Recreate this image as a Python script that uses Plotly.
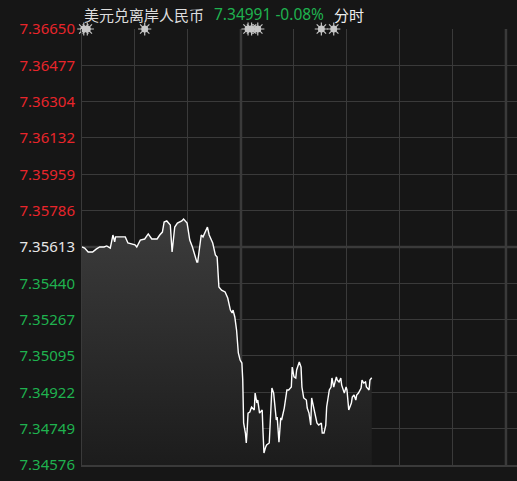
import plotly.graph_objects as go

# minutes since session open
minutes = [0, 3, 7, 12, 16, 20, 25, 28, 32, 35, 37, 38, 44, 49, 52, 57, 60, 62, 66, 71,
           75, 79, 85, 88, 91, 93, 96, 100, 102, 105, 108, 113, 115, 119, 122, 125, 127, 130,
           131, 135, 137, 140, 142, 144, 146, 148, 151, 153, 155, 158, 162, 165, 168, 170,
           171, 173, 175, 177, 179, 181, 182, 183, 185, 186, 187, 188, 190, 192, 195, 196,
           198, 199, 201, 204, 205, 206, 208, 209, 212, 214, 215, 217, 220, 221, 223, 225,
           226, 229, 231, 232, 234, 237, 238, 240, 242, 243, 246, 248, 249, 251, 254, 255,
           257, 259, 260, 263, 265, 266, 268, 271, 272, 274, 276, 277, 280, 282, 283, 285,
           288, 289, 291, 293, 294, 297, 299, 300, 302, 305, 306, 308, 310, 311, 313, 316,
           317, 319, 321, 322, 325, 326, 328]
prices = [7.35613, 7.35608, 7.35589, 7.35589, 7.35603, 7.35613, 7.35613, 7.35618, 7.35608, 7.35670,
          7.35637, 7.35661, 7.35661, 7.35661, 7.35632, 7.35627, 7.35623, 7.35613, 7.35646, 7.35651,
          7.35675, 7.35651, 7.35651, 7.35670, 7.35684, 7.35732, 7.35737, 7.35718, 7.35589, 7.35708,
          7.35727, 7.35737, 7.35746, 7.35727, 7.35646, 7.35613, 7.35589, 7.35542, 7.35542, 7.35670,
          7.35661, 7.35694, 7.35708, 7.35670, 7.35646, 7.35632, 7.35575, 7.35565, 7.35423, 7.35408,
          7.35399, 7.35370, 7.35313, 7.35299, 7.35313, 7.35280, 7.35218, 7.35109, 7.35075, 7.35061,
          7.34980, 7.34776, 7.34728, 7.34681, 7.34742, 7.34823, 7.34828, 7.34852, 7.34838, 7.34918,
          7.34871, 7.34885, 7.34823, 7.34838, 7.34728, 7.34633, 7.34662, 7.34671, 7.34681, 7.34852,
          7.34942, 7.34918, 7.34790, 7.34804, 7.34685, 7.34800, 7.34790, 7.34847, 7.34899, 7.34933,
          7.34933, 7.34947, 7.35042, 7.34995, 7.34990, 7.35028, 7.35066, 7.35042, 7.34947, 7.34895,
          7.34885, 7.34847, 7.34823, 7.34766, 7.34895, 7.34838, 7.34800, 7.34776, 7.34766, 7.34776,
          7.34728, 7.34728, 7.34766, 7.34852, 7.34933, 7.34947, 7.34990, 7.34947, 7.34995, 7.34980,
          7.34971, 7.34990, 7.34956, 7.34918, 7.34947, 7.34933, 7.34838, 7.34871, 7.34899, 7.34909,
          7.34885, 7.34909, 7.34918, 7.34942, 7.34980, 7.34966, 7.34971, 7.34947, 7.34933, 7.34980,
          7.34991]

y_ticks = [7.36650, 7.36477, 7.36304, 7.36132, 7.35959, 7.35786, 7.35613,
           7.35440, 7.35267, 7.35095, 7.34922, 7.34749, 7.34576]
prev_close = 7.35613
event_minutes = [2, 6, 71, 188, 192, 199, 271, 285]

title_name = "美元兑离岸人民币"
last_price = "7.34991"
change_pct = "-0.08%"
mode_label = "分时"

RED = "#e8252b"
GREEN = "#1fb24f"
GRID = "#3a3a3a"
BG = "#161616"

y_lo, y_hi = y_ticks[-1], y_ticks[0]

tick_text = []
for v in y_ticks:
    c = RED if v > prev_close + 1e-9 else (GREEN if v < prev_close - 1e-9 else "#e6e6e6")
    tick_text.append(f"<span style='color:{c}'>{v:.5f}</span>")

fig = go.Figure()

# baseline for area fill
fig.add_trace(go.Scatter(x=[minutes[0], minutes[-1]], y=[y_lo, y_lo], mode="lines",
                         line=dict(width=0, color="rgba(0,0,0,0)"), hoverinfo="skip",
                         showlegend=False))
fig.add_trace(go.Scatter(x=minutes, y=prices, mode="lines",
                         line=dict(color="#ffffff", width=1.4),
                         fill="tonexty",
                         fillgradient=dict(type="vertical",
                                           colorscale=[[0, "rgba(28,28,28,1)"], [1, "rgba(60,60,60,1)"]],
                                           start=y_lo, stop=max(prices)),
                         showlegend=False))

# event markers on top edge
fig.add_trace(go.Scatter(x=event_minutes, y=[y_hi] * len(event_minutes), mode="markers",
                         marker=dict(symbol="asterisk-open", size=11, color="#c4c4c4",
                                     line=dict(color="#c4c4c4", width=1.2)),
                         cliponaxis=False, showlegend=False, hoverinfo="skip"))
fig.add_trace(go.Scatter(x=event_minutes, y=[y_hi] * len(event_minutes), mode="markers",
                         marker=dict(symbol="circle", size=7, color="#c8c8c8",
                                     line=dict(width=0)),
                         cliponaxis=False, showlegend=False, hoverinfo="skip"))

# thicker separators
for xv in [180, 480]:
    fig.add_shape(type="line", x0=xv, x1=xv, y0=y_lo, y1=y_hi, xref="x", yref="y",
                  line=dict(color=GRID, width=2.5), layer="below")
fig.add_shape(type="line", x0=0, x1=1, xref="paper", y0=prev_close, y1=prev_close, yref="y",
              line=dict(color=GRID, width=2.5), layer="below")

fig.update_layout(
    width=517, height=481,
    margin=dict(l=82, r=0, t=29, b=16, autoexpand=False),
    paper_bgcolor=BG, plot_bgcolor=BG,
    font=dict(family="Noto Sans, Liberation Sans, sans-serif"),
    showlegend=False,
    xaxis=dict(range=[0, 492.5], dtick=60, tick0=0, showgrid=True, gridcolor=GRID, gridwidth=1,
               showticklabels=False, zeroline=False, showline=True, linecolor=GRID, linewidth=1.5,
               fixedrange=True, automargin=False),
    yaxis=dict(range=[y_lo, y_hi], tickvals=y_ticks, ticktext=tick_text, showgrid=True,
               gridcolor=GRID, gridwidth=1, zeroline=False, showline=True, linecolor=GRID,
               linewidth=1, ticks="outside", ticklen=3, tickcolor="rgba(0,0,0,0)",
               tickfont=dict(size=15, family="Noto Sans, Liberation Sans, sans-serif"),
               fixedrange=True, automargin=False),
    annotations=[
        dict(x=0, xref="paper", y=1.034, yref="paper", xanchor="left", yanchor="middle",
             showarrow=False, text=title_name,
             font=dict(size=15, color="#dddddd", family="Noto Sans CJK SC, sans-serif")),
        dict(x=(212 - 82) / 435, xref="paper", y=1.034, yref="paper", xanchor="left",
             yanchor="middle", showarrow=False, text=f"{last_price} {change_pct}",
             font=dict(size=15.5, color=GREEN, family="Noto Sans, sans-serif")),
        dict(x=(332 - 82) / 435, xref="paper", y=1.034, yref="paper", xanchor="left",
             yanchor="middle", showarrow=False, text=mode_label,
             font=dict(size=15, color="#eeeeee", family="Noto Sans CJK SC, sans-serif")),
    ],
)

fig.write_html("out.html", config={"displayModeBar": False},
               post_script="document.body.style.margin='0';document.body.style.background='#161616';")
